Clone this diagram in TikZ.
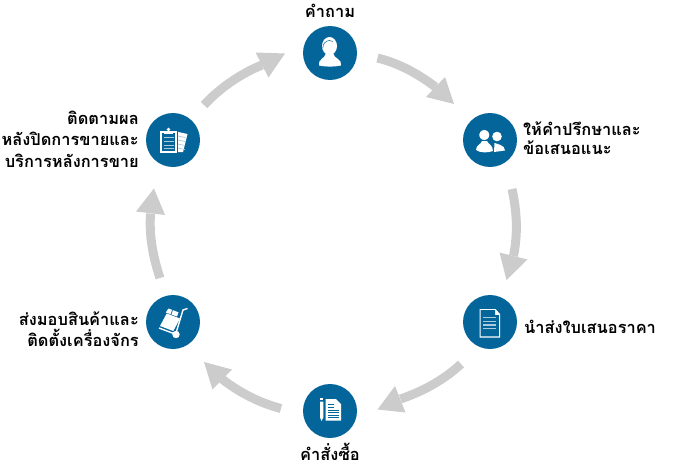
\documentclass[tikz,border=0pt]{standalone}
\usepackage{fontspec}
\setmainfont[Script=Thai]{Loma}
\definecolor{cblue}{HTML}{04659B}
\definecolor{agray}{HTML}{CCCCCC}
\definecolor{lblue}{HTML}{A9CBDE}
\tikzset{
  hub/.style={circle,fill=cblue,draw=none,minimum size=54pt,inner sep=0pt},
  lbl/.style={font=\bfseries\fontsize{16.4pt}{20.5pt}\selectfont,inner sep=0pt,text=black},
  arc/.style={draw=agray,line width=9pt,line cap=butt},
  tip/.style={fill=agray,draw=none},
  ico/.style={fill=white,draw=none},
  icol/.style={draw=white,line width=1pt},
}
\begin{document}
\begin{tikzpicture}[x=1pt,y=-1pt]
\useasboundingbox (0,0) rectangle (690,463);
\node[hub] (a) at (330,53) {};
\node[hub] (b) at (490,140) {};
\node[hub] (c) at (490,322) {};
\node[hub] (d) at (330,411) {};
\node[hub] (e) at (173,322) {};
\node[hub] (f) at (173,140) {};
\node[lbl,anchor=center] (ta) at (330,11) {คำถาม};
\node[lbl,font=\bfseries\fontsize{16.4pt}{18.5pt}\selectfont,anchor=west,align=left] (tb) at (523,138) {ให้คำปรึกษาและ\\ข้อเสนอแนะ};
\node[lbl,anchor=west] (tc) at (524,327) {นำส่งใบเสนอราคา};
\node[lbl,anchor=center] (td) at (330,452) {คำสั่งซื้อ};
\node[lbl,anchor=east,align=right] (te) at (139,329) {ส่งมอบสินค้าและ\\ติดตั้งเครื่องจักร};
\node[lbl,font=\bfseries\fontsize{16.4pt}{21.5pt}\selectfont,anchor=east,align=right] (tf) at (139,139) {ติดตามผล\\หลังปิดการขายและ\\บริการหลังการขาย};
% arrows
\draw[arc] (377.5,58) .. controls (398,63) and (417,73) .. (435.5,87);
\fill[tip] (454,104) -- (426,97) -- (445,77) -- cycle;
\draw[arc] (512,189) .. controls (517,212) and (518,233) .. (513.5,256);
\fill[tip] (506.5,280) -- (499.5,252.5) -- (527.5,259.5) -- cycle;
\draw[arc] (461,364) .. controls (445,379) and (424,391) .. (400.5,399);
\fill[tip] (377.5,409.5) -- (395,386) -- (405.5,412.5) -- cycle;
\draw[arc] (281,408.5) .. controls (260,403) and (240,393) .. (222,379);
\fill[tip] (204,362) -- (232,369.5) -- (212.5,389.5) -- cycle;
\draw[arc] (160,278) .. controls (153,257) and (149,236) .. (150.5,213.5);
\fill[tip] (154,188.5) -- (136,211.5) -- (165,215) -- cycle;
\draw[arc] (204,105) .. controls (220,88) and (240,74) .. (262,65);
\fill[tip] (285,53.5) -- (255.5,52.5) -- (268.5,77.5) -- cycle;
% icon a: head with headset
\fill[ico] (329.5,46) ellipse (7.5 and 9);
\draw[cblue,line width=.5pt] (322.8,48) arc (180:300:6.7 and 7.5);
\fill[ico] (319,65.5) .. controls (317.5,59) and (325,59) .. (326,53) -- (333,53) .. controls (334,59) and (342.5,59) .. (341,65.5) .. controls (334,67) and (326,67) .. (319,65.5) -- cycle;
% icon b: two people
\fill[ico] (497,136.5) circle (4.8);
\fill[ico] (494,152) -- (494.5,143) .. controls (497,144) and (505,145) .. (505,150.5) -- cycle;
\draw[cblue,line width=1.4pt,fill=white] (484.3,135) circle (5.8);
\fill[ico] (476,150) .. controls (476,145) and (481,144.5) .. (482,141) -- (487,141) .. controls (488,144) and (493,145) .. (493,151) .. controls (488,153) and (480,153) .. (476,150) -- cycle;
% icon c: document
\fill[ico] (479.5,309) -- (495.5,309) -- (500,314) -- (500,337.5) -- (479.5,337.5) -- cycle;
\fill[cblue] (480.6,310.1) -- (495,310.1) -- (495,315) -- (498.9,315) -- (498.9,336.4) -- (480.6,336.4) -- cycle;
\foreach \yy in {317.5,321.5,325,328.5}{\draw[lblue,line width=1.1pt] (483.3,\yy) -- (496,\yy);}
% icon d: pencil and doc
\fill[ico] (320,397.5) rectangle (323.3,400);
\fill[ico] (320,401.5) -- (323.3,401.5) -- (323.3,417.5) -- (321.6,421) -- (320,417.5) -- cycle;
\fill[ico] (325.7,399) -- (336,399) -- (341,404) -- (341,420.5) -- (325.7,420.5) -- cycle;
\foreach \yy in {404.5,407}{\draw[cblue,line width=.8pt] (328,\yy) -- (334,\yy);}
\foreach \yy in {410,412.7,415,417.7}{\draw[cblue,line width=.8pt] (328,\yy) -- (339,\yy);}
% icon e: trolley
\fill[ico] (166.7,313.5) -- (180,318.5) -- (173.3,331) -- (160,326) -- cycle;
\fill[ico] (168.5,308.5) -- (178.5,312.3) -- (177,316.5) -- (165.8,312.5) -- cycle;
\draw[cblue,line width=.7pt] (172.5,310) -- (171,314.5);
\draw[icol,line width=1.4pt] (187.5,308.5) -- (183,310) -- (176,333);
\draw[icol,line width=1.4pt] (159,328) -- (175,334);
\fill[ico] (176,334.5) circle (3.7);
% icon f: clipboard
\fill[ico] (176,131.5) -- (187.5,134) -- (183,152) -- (176,152) -- cycle;
\foreach \yy in {136,140,144,148}{\draw[lblue,line width=.7pt] (178,\yy) -- (185,\yy+1.5);}
\fill[cblue] (159,130) rectangle (178,153.5);
\fill[ico] (160,130.5) rectangle (176.7,152.5);
\fill[cblue] (161.5,132.5) rectangle (175.2,151);
\fill[ico] (164,130.5) rectangle (173,133.5);
\fill[ico] (168.5,129.5) circle (1.8);
\foreach \yy in {137,141,145,148.5}{\draw[lblue,line width=.8pt] (163.5,\yy) -- (173.5,\yy);}
\end{tikzpicture}
\end{document}
